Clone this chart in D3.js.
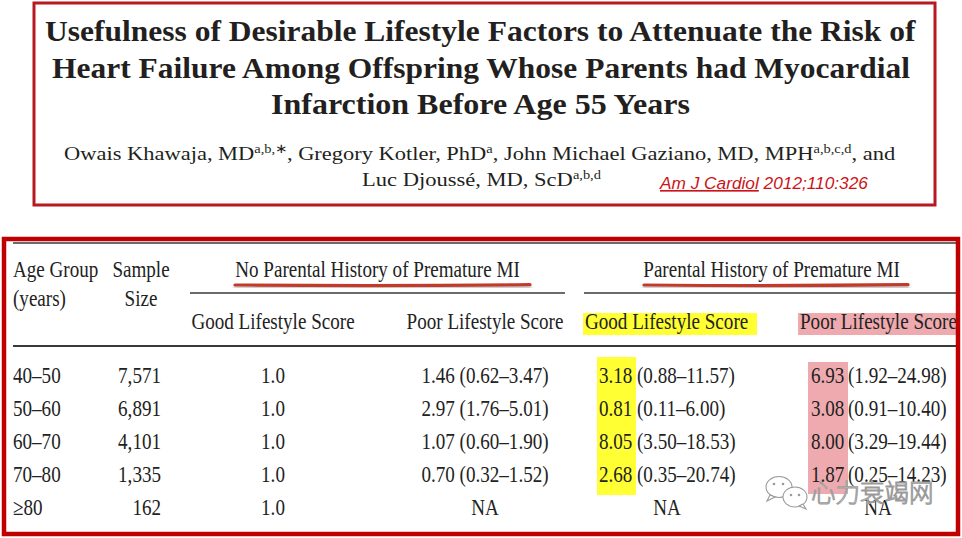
<!DOCTYPE html>
<html><head><meta charset="utf-8">
<script src="https://cdn.jsdelivr.net/npm/d3@7"></script>
<style>html,body{margin:0;padding:0;background:#fff;}svg{display:block;}</style>
</head><body>
<svg id="c" width="962" height="538"></svg>
<script>
// ---------- data ----------
const titleLines = [
  "Usefulness of Desirable Lifestyle Factors to Attenuate the Risk of",
  "Heart Failure Among Offspring Whose Parents had Myocardial",
  "Infarction Before Age 55 Years"
];
const authorsLine1 = [["Owais Khawaja, MD",0],["a,b,∗",1],[", Gregory Kotler, PhD",0],["a",1],[", John Michael Gaziano, MD, MPH",0],["a,b,c,d",1],[", and",0]];
const authorsLine2 = [["Luc Djoussé, MD, ScD",0],["a,b,d",1]];
const citationJournal = "Am J Cardiol";
const citationRef = " 2012;110:326";

const groupHeaders = ["No Parental History of Premature MI", "Parental History of Premature MI"];
const subHeaders = ["Good Lifestyle Score", "Poor Lifestyle Score", "Good Lifestyle Score", "Poor Lifestyle Score"];

const ageGroups   = ["40–50", "50–60", "60–70", "70–80", "≥80"];
const sampleSizes = ["7,571", "6,891", "4,101", "1,335", "162"];
const noHistGood  = [1.0, 1.0, 1.0, 1.0, 1.0];
const noHistPoorHR = [1.46, 2.97, 1.07, 0.70, null];
const noHistPoorLo = [0.62, 1.76, 0.60, 0.32, null];
const noHistPoorHi = [3.47, 5.01, 1.90, 1.52, null];
const histGoodHR = [3.18, 0.81, 8.05, 2.68, null];
const histGoodLo = [0.88, 0.11, 3.50, 0.35, null];
const histGoodHi = [11.57, 6.00, 18.53, 20.74, null];
const histPoorHR = [6.93, 3.08, 8.00, 1.87, null];
const histPoorLo = [1.92, 0.91, 3.29, 0.25, null];
const histPoorHi = [24.98, 10.40, 19.44, 14.23, null];
const watermark = "心力衰竭网";

// ---------- drawing ----------
const svg = d3.select("#c");
const ink = "#222";
const serif = "'Liberation Serif','Times New Roman',serif";
const SX = 0.83;
const f2 = d3.format(".2f"), f1 = d3.format(".1f");

function fit(g, x0, x1, baseline){
  const w = g.node().getBBox().width;
  g.attr("transform", `translate(${x0},${baseline}) scale(${(x1-x0)/w},1)`);
}

// top box
svg.append("rect").attr("x",34).attr("y",3).attr("width",901).attr("height",202)
  .attr("fill","none").attr("stroke","#b81820").attr("stroke-width",3);

const titleSpans = [[45,917,41],[52,910,78],[271,690,114]];
titleLines.forEach((t,i)=>{
  const g = svg.append("g");
  g.append("text").attr("x",0).attr("y",0).attr("font-family",serif).attr("font-weight","bold")
    .attr("font-size",30).attr("fill","#231f20").text(t);
  fit(g, titleSpans[i][0], titleSpans[i][1], titleSpans[i][2]);
});

function authorLine(parts, x0, x1, base){
  const g = svg.append("g");
  const t = g.append("text").attr("font-family",serif).attr("font-size",19.5).attr("fill","#231f20");
  let prevSup = 0;
  parts.forEach(([s,sup])=>{
    const ts = t.append("tspan").text(s);
    if(sup){ ts.attr("font-size",12.5).attr("dy",-7.5); }
    else if(prevSup){ ts.attr("dy",7.5); }
    prevSup = sup;
  });
  fit(g, x0, x1, base);
}
authorLine(authorsLine1, 64, 897, 160);
authorLine(authorsLine2, 362, 602, 186);

const cit = svg.append("g");
const ct = cit.append("text").attr("font-family","'Liberation Sans',Arial,sans-serif").attr("font-style","italic")
  .attr("font-size",16.5).attr("fill","#cc1418");
ct.append("tspan").attr("text-decoration","underline").text(citationJournal);
ct.append("tspan").text(citationRef);
fit(cit, 660, 870, 189);

// ---------- table ----------
const row = d3.scalePoint().domain(ageGroups).range([375, 507]);
const col = d3.scaleOrdinal()
  .domain(["age","n","nhGood","nhPoor","hGoodV","hGoodCI","hGoodNA","hPoorV","hPoorCI","hPoorNA","sample"])
  .range([13, 161, 273, 485, 599, 637, 667, 811, 848, 878, 141]);

function cell(x, y, txt, anchor, size){
  svg.append("text")
    .attr("transform", `translate(${x},${y}) scale(${SX},1)`)
    .attr("text-anchor", anchor || "start")
    .attr("font-family", serif).attr("font-size", size || 23).attr("fill", ink)
    .text(txt);
}

// highlights
const lastIdx = 3;
svg.append("rect").attr("x",583).attr("y",313).attr("width",174).attr("height",22).attr("fill","#ffff33");
svg.append("rect").attr("x",798).attr("y",313).attr("width",160).attr("height",22).attr("fill","#eeaaae");
svg.append("rect").attr("x",col("hGoodV")-2).attr("y",row(ageGroups[0])-18)
  .attr("width",39).attr("height",row(ageGroups[lastIdx])-row(ageGroups[0])+39).attr("fill","#ffff33");
svg.append("rect").attr("x",col("hPoorV")-3).attr("y",row(ageGroups[0])-13)
  .attr("width",40).attr("height",row(ageGroups[lastIdx])-row(ageGroups[0])+33).attr("fill","#eeaaae");

// rules
const rule = (x1,x2,y,w)=>svg.append("line").attr("x1",x1).attr("x2",x2).attr("y1",y).attr("y2",y)
  .attr("stroke","#3a3a3a").attr("stroke-width",w);
rule(13, 958, 243, 1.6);
rule(190, 565, 293, 1.4);
rule(584, 958, 293, 1.4);
rule(13, 958, 346, 1.8);

// header text
cell(13, 277, "Age Group");
cell(13, 306, "(years)");
cell(col("sample"), 277, "Sample", "middle");
cell(col("sample"), 306, "Size", "middle");
cell(377.5, 277, groupHeaders[0], "middle");
cell(771.5, 277, groupHeaders[1], "middle");
cell(col("nhGood"), 329, subHeaders[0], "middle");
cell(col("nhPoor"), 329, subHeaders[1], "middle");
cell(585, 329, subHeaders[2], "start");
cell(800, 329, subHeaders[3], "start");

// red hand-drawn underlines with shadow
const defs = svg.append("defs");
const flt = defs.append("filter").attr("id","sh").attr("x","-5%").attr("y","-200%").attr("width","110%").attr("height","500%");
flt.append("feDropShadow").attr("dx",0).attr("dy",3).attr("stdDeviation",1.6).attr("flood-color","#888").attr("flood-opacity",0.6);
const ul = (x1,x2,y)=>svg.append("path")
  .attr("d",`M${x1},${y} Q${(x1+x2)/2},${y+1.2} ${x2},${y-0.3}`)
  .attr("stroke","#c23b2b").attr("stroke-width",3.2).attr("fill","none").attr("stroke-linecap","round")
  .attr("filter","url(#sh)");
ul(235, 530, 285);
ul(644, 908, 285);

// body rows
ageGroups.forEach((a,i)=>{
  const y = row(a) + 8;
  cell(col("age"), y, a);
  cell(col("n"), y, sampleSizes[i], "end");
  cell(col("nhGood"), y, f1(noHistGood[i]), "middle");
  if(noHistPoorHR[i]==null) cell(col("nhPoor"), y, "NA", "middle");
  else cell(col("nhPoor"), y, `${f2(noHistPoorHR[i])} (${f2(noHistPoorLo[i])}–${f2(noHistPoorHi[i])})`, "middle");
  if(histGoodHR[i]==null) cell(col("hGoodNA"), y, "NA", "middle");
  else { cell(col("hGoodV"), y, f2(histGoodHR[i])); cell(col("hGoodCI"), y, `(${f2(histGoodLo[i])}–${f2(histGoodHi[i])})`); }
  if(histPoorHR[i]==null) cell(col("hPoorNA"), y, "NA", "middle");
  else { cell(col("hPoorV"), y, f2(histPoorHR[i])); cell(col("hPoorCI"), y, `(${f2(histPoorLo[i])}–${f2(histPoorHi[i])})`); }
});

// watermark
const wm = svg.append("g").attr("fill","#fff").attr("stroke","#9a9a9a").attr("stroke-width",1.1);
wm.append("ellipse").attr("cx",779).attr("cy",487).attr("rx",13).attr("ry",10.5);
wm.append("path").attr("d","M770,495 l-3,6 l8,-4 z");
wm.append("ellipse").attr("cx",795).attr("cy",497).attr("rx",12).attr("ry",10);
wm.append("path").attr("d","M803,504 l3,5 l-7,-3 z");
[[774,484],[783,484],[791,495],[799,495]].forEach(([x,y])=>wm.append("circle").attr("cx",x).attr("cy",y).attr("r",1.3).attr("fill","#9a9a9a").attr("stroke","none"));
wm.append("text").attr("x",811).attr("y",502).attr("font-family","'Noto Sans CJK SC',sans-serif")
  .attr("font-size",24.5).attr("font-weight",300).attr("stroke-width",1).text(watermark);

// outer table box
svg.append("rect").attr("x",4).attr("y",239).attr("width",954).attr("height",295)
  .attr("fill","none").attr("stroke","#c00000").attr("stroke-width",4.5);
</script>
</body></html>
